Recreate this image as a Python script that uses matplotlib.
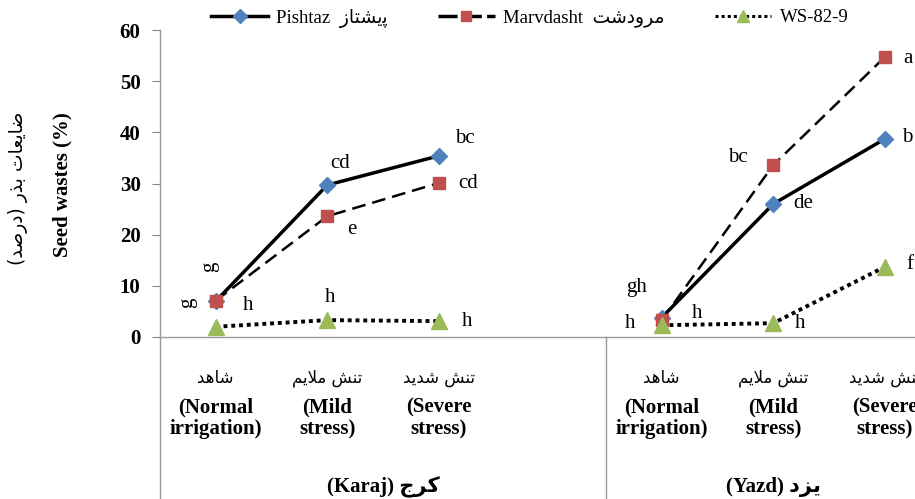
import numpy as np
import matplotlib.pyplot as plt
from matplotlib.font_manager import FontProperties
from matplotlib.lines import Line2D

# Persian text is written in visual order with presentation forms,
# since matplotlib does not shape Arabic script.
fa_pishtaz = '\uFEAF\uFE8E\uFE98\uFEB8\uFBFE\uFB58'
fa_marvdasht = '\uFE96\uFEB7\uFEA9\uFEED\uFEAE\uFEE3'
fa_ylabel = ('(\uFEAA\uFEBB\uFEAD\uFEA9) \uFEAD\uFEAC\uFE91 '
             '\uFE95\uFE8E\uFECC\uFBFE\uFE8E\uFEBF')
fa_normal = '\uFEAA\uFEEB\uFE8E\uFEB7'
fa_mild = '\uFEE2\uFBFE\uFEFC\uFEE3 \uFEB6\uFEE8\uFE97'
fa_severe = '\uFEAA\uFBFE\uFEAA\uFEB7 \uFEB6\uFEE8\uFE97'
fa_karaj = '\uFE9D\uFEAE\uFB90'
fa_yazd = '\uFEA9\uFEB0\uFBFE'

# data
cat_fa = [fa_normal, fa_mild, fa_severe]
cat_en1 = ['(Normal', '(Mild', '(Severe']
cat_en2 = ['irrigation)', 'stress)', 'stress)']
groups = ['(Karaj) ' + fa_karaj, '(Yazd) ' + fa_yazd]

karaj_pishtaz = [7.0, 29.7, 35.4]
karaj_marvdasht = [7.1, 23.6, 30.1]
karaj_ws = [2.0, 3.3, 3.1]
yazd_pishtaz = [3.8, 26.0, 38.7]
yazd_marvdasht = [3.3, 33.6, 54.7]
yazd_ws = [2.3, 2.7, 13.7]

karaj_letters = {'pishtaz': ['g', 'cd', 'bc'], 'marvdasht': ['g', 'e', 'cd'], 'ws': ['h', 'h', 'h']}
yazd_letters = {'pishtaz': ['gh', 'de', 'b'], 'marvdasht': ['h', 'bc', 'a'], 'ws': ['h', 'h', 'f']}

serif = ['Liberation Serif', 'DejaVu Sans']
fa_font = ['DejaVu Sans']

fig = plt.figure(figsize=(9.15, 4.99), dpi=100)
ax = fig.add_axes([160 / 915, 162 / 499, 780.5 / 915, 307 / 499])

nan = np.nan
x = np.arange(7)
pishtaz = karaj_pishtaz + [nan] + yazd_pishtaz
marvdasht = karaj_marvdasht + [nan] + yazd_marvdasht
ws = karaj_ws + [nan] + yazd_ws

ax.plot(x, pishtaz, color='black', lw=2.5, marker='D', ms=8,
        mfc='#4F81BD', mec='#4F81BD', zorder=3)
ax.plot(x, marvdasht, color='black', lw=1.8, ls=(0, (5.5, 2.8)), marker='s', ms=8,
        mfc='#C0504D', mec='#C0504D', zorder=4)
ax.plot(x, ws, color='black', lw=2.8, ls=(0, (1, 1)), marker='^', ms=11,
        mfc='#9BBB59', mec='#9BBB59', zorder=5)

ax.set_xlim(-0.5, 6.5)
ax.set_ylim(0, 60)
ax.set_yticks(range(0, 61, 10))
ax.set_xticks([])
ax.tick_params(axis='y', length=6, color='#888888', pad=8)
for lab in ax.get_yticklabels():
    lab.set_fontfamily(serif)
    lab.set_fontweight('bold')
    lab.set_fontsize(15)

for s in ['top', 'right']:
    ax.spines[s].set_visible(False)
for s in ['left', 'bottom']:
    ax.spines[s].set_color('#999999')
    ax.spines[s].set_linewidth(1)

# group separators below the axis
trans = ax.get_xaxis_transform()
for xs in [-0.5, 3.5]:
    ax.plot([xs, xs], [0, -0.6], transform=trans, color='#999999', lw=1, clip_on=False)

# category labels
for g, start in enumerate([0, 4]):
    for i in range(3):
        xc = start + i
        ax.text(xc, -0.135, cat_fa[i], transform=trans, ha='center', va='center',
                fontsize=12, family=fa_font)
        ax.text(xc, -0.230, cat_en1[i], transform=trans, ha='center', va='center',
                fontsize=15, fontweight='bold', family=serif)
        ax.text(xc, -0.300, cat_en2[i], transform=trans, ha='center', va='center',
                fontsize=15, fontweight='bold', family=serif)
ax.text(1.5, -0.49, groups[0], transform=trans, ha='center', va='center',
        fontsize=15, fontweight='bold', family=serif)
ax.text(5.0, -0.49, groups[1], transform=trans, ha='center', va='center',
        fontsize=15, fontweight='bold', family=serif)

# axis titles
fig.text(62 / 915, 1 - 185 / 499, 'Seed wastes (%)', rotation=90, ha='center', va='center',
         fontsize=15, fontweight='bold', family=serif)
fig.text(18 / 915, 1 - 188 / 499, fa_ylabel, rotation=90, ha='center', va='center',
         fontsize=13.5, family=fa_font)

# letters of mean comparison
karaj_pos = {
    'pishtaz': [(-6, 34, 90), (13, 22, 0), (26, 17, 0)],
    'marvdasht': [(-28, -2, 90), (25, -13, 0), (29, -1, 0)],
    'ws': [(32, 21, 0), (3, 23, 0), (28, 0, 0)],
}
yazd_pos = {
    'pishtaz': [(-25, 30, 0), (30, 0, 0), (22, 1, 0)],
    'marvdasht': [(-32, -3, 0), (-35, 8, 0), (23, -1, 0)],
    'ws': [(35, 12, 0), (27, 0, 0), (25, 2, 0)],
}
karaj_vals = {'pishtaz': karaj_pishtaz, 'marvdasht': karaj_marvdasht, 'ws': karaj_ws}
yazd_vals = {'pishtaz': yazd_pishtaz, 'marvdasht': yazd_marvdasht, 'ws': yazd_ws}

for start, vals, letters, pos in [(0, karaj_vals, karaj_letters, karaj_pos),
                                  (4, yazd_vals, yazd_letters, yazd_pos)]:
    for key in vals:
        for i in range(3):
            dx, dy, rot = pos[key][i]
            ax.annotate(letters[key][i], (start + i, vals[key][i]), xytext=(dx, dy),
                        textcoords='offset pixels', ha='center', va='center',
                        fontsize=15, family=serif, rotation=rot, annotation_clip=False)

# legend
handles = [
    Line2D([], [], color='black', lw=2.5, marker='D', ms=7, mfc='#4F81BD', mec='#4F81BD'),
    Line2D([], [], color='black', lw=2.5, ls=(0, (5.5, 1.5)), marker='s', ms=7,
           mfc='#C0504D', mec='#C0504D'),
    Line2D([], [], color='black', lw=2.2, ls=(0, (1, 1)), marker='^', ms=8,
           mfc='#9BBB59', mec='#9BBB59'),
]
labels = ['Pishtaz  ' + fa_pishtaz, 'Marvdasht  ' + fa_marvdasht, 'WS-82-9']
fig.legend(handles, labels, loc='center', bbox_to_anchor=(530 / 915, 1 - 18 / 499), ncol=3,
           frameon=False, prop=FontProperties(family=serif, size=13.5),
           handlelength=3.0, handletextpad=0.45, columnspacing=2.7)

fig.savefig('out.png', dpi=100)
